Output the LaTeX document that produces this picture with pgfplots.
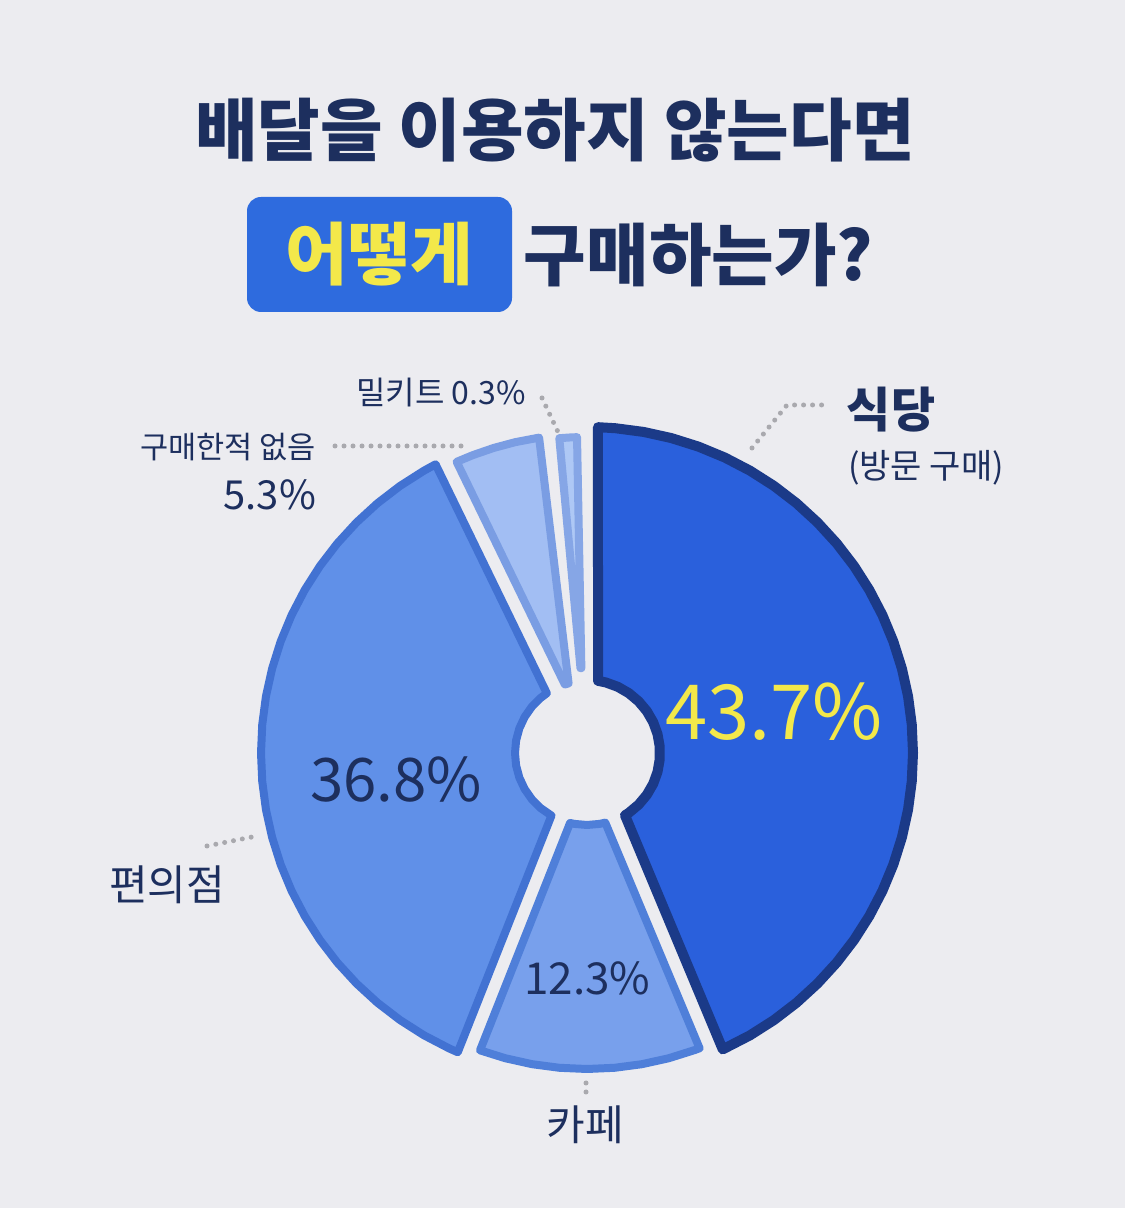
\documentclass[border=0pt]{standalone}
\usepackage{fontspec}
\setmainfont{Noto Sans CJK KR}
\usepackage{pgfplots}
\pgfplotsset{compat=1.18}
\definecolor{bg}{HTML}{ECECF0}
\definecolor{navy}{HTML}{1D2F5E}
\definecolor{ylw}{HTML}{F3E84A}
\definecolor{boxblue}{HTML}{2E6BDE}
\definecolor{c1}{HTML}{2A60DC}\definecolor{o1}{HTML}{1B3A88}
\definecolor{c2}{HTML}{78A0EC}\definecolor{o2}{HTML}{4F7FD9}
\definecolor{c3}{HTML}{6090E8}\definecolor{o3}{HTML}{4272D2}
\definecolor{c4}{HTML}{A2BEF3}\definecolor{o4}{HTML}{7A9DE3}
\definecolor{c5}{HTML}{AEC8F5}\definecolor{o5}{HTML}{86A6E6}
\definecolor{dotc}{HTML}{A9A9AE}
\begin{document}
\begin{tikzpicture}
\begin{axis}[
  width=562.5pt, height=604pt, scale only axis,
  xmin=-587, xmax=538, ymin=-455, ymax=753,
  hide axis, clip=false, no markers,
  every axis plot/.append style={line join=round},
  dots/.style={draw=dotc, line width=2.5pt, line cap=round, dash pattern=on 0pt off 4.5pt},
]
% background
\addplot[fill=bg, draw=none] coordinates {(-587,-455) (538,-455) (538,753) (-587,753)} -- cycle;
% 식당 43.7
\addplot[data cs=polar, fill=c1, draw=o1, line width=5pt] coordinates {
(-58.65,73) (-65.39,326) (-60,326) (-55,326) (-50,326) (-45,326) (-40,326) (-35,326) (-30,326) (-25,326) (-20,326) (-15,326) (-10,326) (-5,326) (0,326) (5,326) (10,326) (15,326) (20,326) (25,326) (30,326) (35,326) (40,326) (45,326) (50,326) (55,326) (60,326) (65,326) (70,326) (75,326) (80,326) (85,326) (88.07,326)
(81.33,73) (75,73) (65,73) (55,73) (45,73) (35,73) (25,73) (15,73) (5,73) (-5,73) (-15,73) (-25,73) (-35,73) (-45,73) (-55,73)} -- cycle;
% 카페 12.3
\addplot[data cs=polar, fill=c2, draw=o2, line width=4pt] coordinates {
(-103.62,72) (-109.79,316) (-105,316) (-100,316) (-95,316) (-90,316) (-85,316) (-80,316) (-75,316) (-70,316) (-69.13,316)
(-75.30,72) (-80,72) (-90,72) (-100,72)} -- cycle;
% 편의점 36.8
\addplot[data cs=polar, fill=c3, draw=o3, line width=4pt] coordinates {
(-236.10,72) (-242.32,326) (-240,326) (-235,326) (-230,326) (-225,326) (-220,326) (-215,326) (-210,326) (-205,326) (-200,326) (-195,326) (-190,326) (-185,326) (-180,326) (-175,326) (-170,326) (-165,326) (-160,326) (-155,326) (-150,326) (-145,326) (-140,326) (-135,326) (-130,326) (-125,326) (-120,326) (-115,326) (-113.36,326)
(-119.58,72) (-130,72) (-140,72) (-150,72) (-160,72) (-170,72) (-180,72) (-190,72) (-200,72) (-210,72) (-220,72) (-230,72)} -- cycle;
% 구매한적 없음 5.3
\addplot[data cs=polar, fill=c4, draw=o4, line width=4pt] coordinates {
(-255.18,72) (-261.36,319) (-257,319) (-253,319) (-249,319) (-245.88,319) (-252.06,72)} -- cycle;
% 밀키트
\addplot[data cs=polar, fill=c5, draw=o5, line width=4pt] coordinates {
(-266.2,85) (-268.19,316) (-266.6,316) (-264.97,316) (-265.6,85)} -- cycle;
% leader dots
\addplot[dots] coordinates {(165,305) (200,348) (236,348)};
\addplot[dots] coordinates {(-45,355) (-29,321)};
\addplot[dots] coordinates {(-252,307) (-125,307)};
\addplot[dots] coordinates {(-380,-93) (-335,-84)};
\addplot[dots] coordinates {(-1,-330) (-1,-341)};
% title
\node[text=navy, font=\fontsize{34}{40}\selectfont\bfseries] at (axis cs:-32,623) {배달을 이용하지 않는다면};
\node[fill=boxblue, rounded corners=7pt, minimum width=132.5pt, minimum height=57.5pt, inner sep=0pt,
      text=ylw, font=\fontsize{34}{40}\selectfont\bfseries] at (axis cs:-207.5,498.5) {어떻게};
\node[text=navy, font=\fontsize{34}{40}\selectfont\bfseries] at (axis cs:111.5,498) {구매하는가?};
% labels
\node[text=navy, font=\fontsize{24}{28}\selectfont\bfseries] at (axis cs:304,343) {식당};
\node[text=navy, font=\fontsize{17}{20}\selectfont] at (axis cs:339,285) {(방문 구매)};
\node[text=navy, font=\fontsize{16}{19}\selectfont] at (axis cs:-146,360) {밀키트 0.3\%};
\node[text=navy, font=\fontsize{15.3}{18}\selectfont, anchor=east] at (axis cs:-264,306) {구매한적 없음};
\node[text=navy, font=\fontsize{20}{24}\selectfont, anchor=east] at (axis cs:-264,258) {5.3\%};
\node[text=navy, font=\fontsize{21}{24}\selectfont] at (axis cs:-420,-132) {편의점};
\node[text=navy, font=\fontsize{21}{24}\selectfont] at (axis cs:-2,-372) {카페};
\node[text=ylw, font=\fontsize{38}{44}\selectfont] at (axis cs:187,41) {43.7\%};
\node[text=navy, font=\fontsize{30}{36}\selectfont] at (axis cs:-191,-27) {36.8\%};
\node[text=navy, font=\fontsize{22}{26}\selectfont] at (axis cs:0.5,-225) {12.3\%};
\end{axis}
\end{tikzpicture}
\end{document}
